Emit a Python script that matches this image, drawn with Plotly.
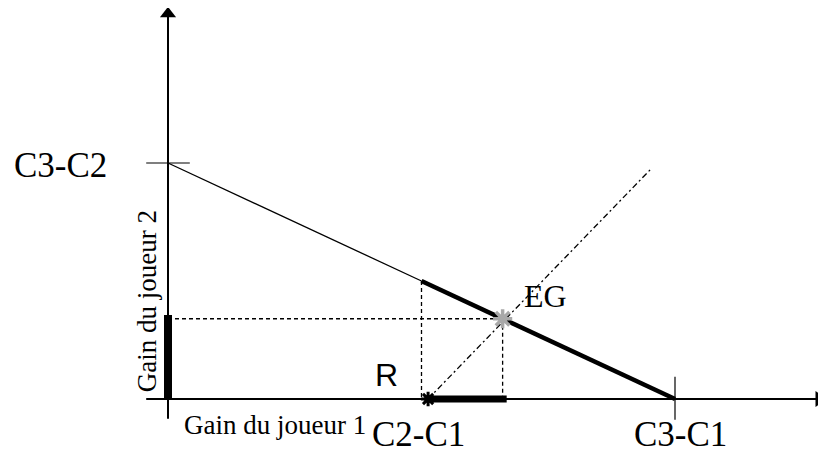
import plotly.graph_objects as go

# Valeurs du schema (unites arbitraires)
c3_c1 = 10.0   # gain max joueur 1
c3_c2 = 5.0    # gain max joueur 2
c2_c1 = 5.13   # point de desaccord R

# frontiere des gains (partie fine puis partie epaisse)
front_fine_x = [0.0, 5.0]
front_fine_y = [5.0, 2.5]
front_epaisse_x = [5.0, 10.0]
front_epaisse_y = [2.5, 0.0]

# solution egalitaire EG
eg_x = 6.6
eg_y = 1.7

# diagonale partant de R
diag_x = [5.13, 9.55]
diag_y = [0.0, 4.9]

# etendue des axes
axe_x = [-0.43, 12.84]
axe_y = [-0.42, 8.16]

# echelle : pixels par unite (la page a une marge de 8px)
sx = 50.7
sy = 47.2
marge = 8
x_range = [(marge - 168) / sx, (826 - 168) / sx]
y_range = [(399 - 455) / sy, (399 - marge) / sy]

noir = "black"
serif = "Liberation Serif"

fig = go.Figure()


def ligne(x, y, width=1.5, dash="solid", color=noir):
    fig.add_trace(go.Scatter(x=x, y=y, mode="lines",
                             line=dict(color=color, width=width, dash=dash),
                             showlegend=False, hoverinfo="skip"))


# Axes
ligne([axe_x[0], axe_x[1]], [0, 0], width=2)
ligne([0, 0], [axe_y[0], axe_y[1]], width=2)
fig.add_trace(go.Scatter(x=[axe_x[1]], y=[0], mode="markers",
                         marker=dict(symbol="triangle-right", size=14, color=noir),
                         showlegend=False, hoverinfo="skip"))
fig.add_trace(go.Scatter(x=[0], y=[axe_y[1]], mode="markers",
                         marker=dict(symbol="triangle-up", size=14, color=noir),
                         showlegend=False, hoverinfo="skip"))

# graduations
ligne([-0.43, 0.43], [c3_c2, c3_c2], width=1.2)
ligne([c3_c1, c3_c1], [-0.44, 0.47], width=1.2)

# frontiere
ligne(front_fine_x, front_fine_y, width=1.3)
ligne(front_epaisse_x, front_epaisse_y, width=4.5)

# pointilles
ligne([0, eg_x], [eg_y, eg_y], width=1.3, dash="4px,3px")
ligne([front_epaisse_x[0], front_epaisse_x[0]], [front_epaisse_y[0], 0], width=1.3, dash="4px,3px")
ligne([eg_x, eg_x], [eg_y, 0], width=1.3, dash="4px,3px")
ligne(diag_x, diag_y, width=1.3, dash="6px,3px,2px,3px")

# segments epais sur les axes
ligne([0, 0], [0, eg_y + 0.08], width=8)
ligne([c2_c1, eg_x + 0.08], [0, 0], width=7)

# points
fig.add_trace(go.Scatter(x=[eg_x], y=[eg_y], mode="markers",
                         marker=dict(symbol="asterisk", size=16,
                                     line=dict(color="#a8a8a8", width=3.5)),
                         showlegend=False, hoverinfo="skip"))
fig.add_trace(go.Scatter(x=[c2_c1], y=[0], mode="markers",
                         marker=dict(symbol="asterisk", size=12,
                                     line=dict(color=noir, width=3)),
                         showlegend=False, hoverinfo="skip"))

# Textes
textes = [
    ("C3-C2", -3.077, 4.947, 35, serif, 0, "left"),
    ("C2-C1", 3.984, -0.752, 35, serif, 0, "left"),
    ("C3-C1", 9.152, -0.752, 35, serif, 0, "left"),
    ("Gain du joueur 1", 0.276, -0.551, 27, serif, 0, "left"),
    ("Gain du joueur 2", -0.40, 2.066, 27, serif, -90, "center"),
    ("R", 4.043, 0.508, 32, "Liberation Sans", 0, "left"),
    ("EG", 6.982, 2.172, 32, serif, 0, "left"),
]
for t, x, y, s, f, a, xa in textes:
    fig.add_annotation(x=x, y=y, text=t, showarrow=False, textangle=a,
                       xanchor=xa, yanchor="middle",
                       font=dict(family=f, size=s, color=noir))

fig.update_layout(
    width=826 - marge, height=455 - marge,
    margin=dict(l=0, r=0, t=0, b=0),
    paper_bgcolor="white", plot_bgcolor="white",
    xaxis=dict(range=x_range, visible=False, fixedrange=True),
    yaxis=dict(range=y_range, visible=False, fixedrange=True),
)

fig.write_html("out.html")
